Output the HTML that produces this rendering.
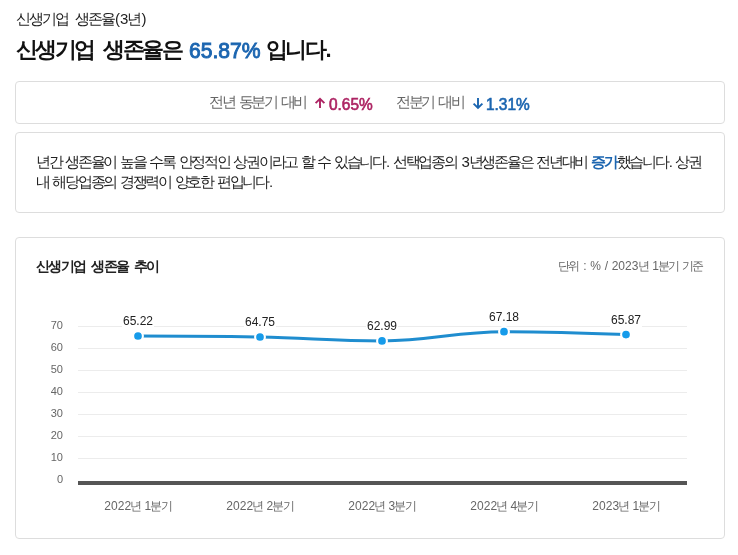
<!DOCTYPE html>
<html lang="ko">
<head>
<meta charset="utf-8">
<title>신생기업 생존율(3년)</title>
<style>
*{box-sizing:border-box;margin:0;padding:0}
html,body{width:738px;height:555px;background:#fff;overflow:hidden}
body{position:relative;font-family:"Liberation Sans",sans-serif;color:#222;font-size:14px}
i{display:inline-flex;justify-content:center;width:.85em;font-style:normal;white-space:nowrap}
.page{position:absolute;left:0;top:0;width:738px;height:555px;will-change:transform}
.abs{position:absolute;white-space:nowrap}
.box{position:absolute;left:15px;width:710px;border:1px solid #dddddd;border-radius:4px;background:#fff}
.sub{left:17px;top:9px;font-size:15px;line-height:20px;color:#222;word-spacing:2.6px}
.sub i{width:.87em}
.ttl{left:17px;top:35px;font-size:22px;line-height:30px;font-weight:bold;color:#111;word-spacing:3.5px}
.num{font-size:22px;font-weight:normal;-webkit-text-stroke:.95px #1b65b0;transform:scaleX(.96);transform-origin:0 50%;margin-top:1px}
.ttl i{width:.886em}
.blue{color:#1b65b0}
.pink{color:#ad2463}
.g{color:#666}
.cmp{top:92px;font-size:15px;line-height:20px;word-spacing:-.4px}
.cmp b{display:block;font-size:16.5px;font-weight:normal;-webkit-text-stroke:.65px;transform:scaleX(.935);transform-origin:0 50%;margin-top:2px}
.para{left:37px;font-size:15px;line-height:21px;color:#222;word-spacing:-.4px}
.ct{left:37px;top:256px;font-size:14px;line-height:20px;font-weight:bold;color:#222;word-spacing:2px}
.ct i{width:.88em}
.unit{right:34.5px;top:258px;font-size:12px;line-height:16px;color:#666;word-spacing:.4px}
.yl{position:absolute;left:39px;margin-top:-1px;width:24px;text-align:right;font-size:11px;line-height:12px;color:#666}
.xl{position:absolute;top:499px;width:100px;text-align:center;font-size:12px;line-height:14px;color:#666;white-space:nowrap}
.vl{position:absolute;width:32px;text-align:center;font-size:12px;line-height:14px;color:#222;background:#fff}
svg{position:absolute;left:0;top:0}

/* Fallback when no Hangul font is installed: the probe glyph collapses to the narrow
   "missing glyph" box, which makes the overlay below expand and shade each word so the
   text keeps roughly its real visual weight. With a real Hangul font the overlay is 0 wide. */
.probe{position:absolute;left:0;top:0;font-size:20px;line-height:20px;color:transparent;white-space:nowrap;pointer-events:none}
.probe::before{content:"\AC00"}
.probe::after{content:"";position:absolute;left:0;top:0;height:555px;width:calc((.8em - 100%)*9999);max-width:738px;background:linear-gradient(rgba(34,34,34,.12) 0 0) 17.8px 13.1px/50.7px 13.5px no-repeat,
linear-gradient(rgba(34,34,34,.19) 0 0) 76.5px 13.1px/37.6px 13.5px no-repeat,
linear-gradient(rgba(34,34,34,.14) 0 0) 128.7px 13.1px/11.5px 13.5px no-repeat,
linear-gradient(rgba(17,17,17,.30) 0 0) 18.1px 41.3px/75.7px 19.8px no-repeat,
linear-gradient(rgba(17,17,17,.37) 0 0) 105.5px 41.3px/75.7px 19.8px no-repeat,
linear-gradient(rgba(17,17,17,.27) 0 0) 268.1px 41.3px/56.3px 19.8px no-repeat,
linear-gradient(rgba(102,102,102,.15) 0 0) 211.2px 96.1px/24.0px 13.5px no-repeat,
linear-gradient(rgba(102,102,102,.14) 0 0) 240.4px 96.1px/36.8px 13.5px no-repeat,
linear-gradient(rgba(102,102,102,.15) 0 0) 282.2px 96.1px/24.0px 13.5px no-repeat,
linear-gradient(rgba(102,102,102,.13) 0 0) 397.8px 96.1px/36.8px 13.5px no-repeat,
linear-gradient(rgba(102,102,102,.15) 0 0) 439.6px 96.1px/24.0px 13.5px no-repeat,
linear-gradient(rgba(34,34,34,.13) 0 0) 37.8px 155.6px/24.0px 13.5px no-repeat,
linear-gradient(rgba(34,34,34,.17) 0 0) 66.9px 155.6px/49.5px 13.5px no-repeat,
linear-gradient(rgba(34,34,34,.19) 0 0) 121.5px 155.6px/24.0px 13.5px no-repeat,
linear-gradient(rgba(34,34,34,.13) 0 0) 150.6px 155.6px/24.0px 13.5px no-repeat,
linear-gradient(rgba(34,34,34,.14) 0 0) 179.7px 155.6px/49.5px 13.5px no-repeat,
linear-gradient(rgba(34,34,34,.12) 0 0) 234.3px 155.6px/62.2px 13.5px no-repeat,
linear-gradient(rgba(34,34,34,.26) 0 0) 301.7px 155.6px/11.2px 13.5px no-repeat,
linear-gradient(rgba(34,34,34,.05) 0 0) 318.0px 155.6px/11.2px 13.5px no-repeat,
linear-gradient(rgba(34,34,34,.11) 0 0) 334.4px 155.6px/49.5px 13.5px no-repeat,
linear-gradient(rgba(34,34,34,.16) 0 0) 393.0px 155.6px/62.2px 13.5px no-repeat,
linear-gradient(rgba(34,34,34,.18) 0 0) 468.3px 155.6px/62.2px 13.5px no-repeat,
linear-gradient(rgba(34,34,34,.14) 0 0) 535.7px 155.6px/49.5px 13.5px no-repeat,
linear-gradient(rgba(27,101,176,.28) 0 0) 590.3px 155.6px/24.0px 13.5px no-repeat,
linear-gradient(rgba(34,34,34,.16) 0 0) 615.8px 155.6px/49.5px 13.5px no-repeat,
linear-gradient(rgba(34,34,34,.13) 0 0) 674.4px 155.6px/24.0px 13.5px no-repeat,
linear-gradient(rgba(34,34,34,.15) 0 0) 37.8px 175.6px/11.2px 13.5px no-repeat,
linear-gradient(rgba(34,34,34,.17) 0 0) 54.1px 175.6px/62.2px 13.5px no-repeat,
linear-gradient(rgba(34,34,34,.16) 0 0) 121.5px 175.6px/49.5px 13.5px no-repeat,
linear-gradient(rgba(34,34,34,.16) 0 0) 176.1px 175.6px/36.8px 13.5px no-repeat,
linear-gradient(rgba(34,34,34,.13) 0 0) 217.9px 175.6px/49.5px 13.5px no-repeat,
linear-gradient(rgba(34,34,34,.27) 0 0) 37.7px 260.5px/47.9px 12.6px no-repeat,
linear-gradient(rgba(34,34,34,.34) 0 0) 93.0px 260.5px/35.5px 12.6px no-repeat,
linear-gradient(rgba(34,34,34,.25) 0 0) 135.9px 260.5px/23.2px 12.6px no-repeat,
linear-gradient(rgba(102,102,102,.12) 0 0) 560.4px 261.3px/19.2px 10.8px no-repeat,
linear-gradient(rgba(102,102,102,.14) 0 0) 639.4px 261.3px/9.0px 10.8px no-repeat,
linear-gradient(rgba(102,102,102,.11) 0 0) 659.9px 261.3px/19.2px 10.8px no-repeat,
linear-gradient(rgba(102,102,102,.13) 0 0) 683.7px 261.3px/19.2px 10.8px no-repeat,
linear-gradient(rgba(102,102,102,.14) 0 0) 132.3px 501.3px/9.0px 10.8px no-repeat,
linear-gradient(rgba(102,102,102,.10) 0 0) 152.5px 501.3px/19.2px 10.8px no-repeat,
linear-gradient(rgba(102,102,102,.14) 0 0) 254.3px 501.3px/9.0px 10.8px no-repeat,
linear-gradient(rgba(102,102,102,.10) 0 0) 274.5px 501.3px/19.2px 10.8px no-repeat,
linear-gradient(rgba(102,102,102,.14) 0 0) 376.3px 501.3px/9.0px 10.8px no-repeat,
linear-gradient(rgba(102,102,102,.10) 0 0) 396.5px 501.3px/19.2px 10.8px no-repeat,
linear-gradient(rgba(102,102,102,.14) 0 0) 498.3px 501.3px/9.0px 10.8px no-repeat,
linear-gradient(rgba(102,102,102,.10) 0 0) 518.5px 501.3px/19.2px 10.8px no-repeat,
linear-gradient(rgba(102,102,102,.14) 0 0) 620.3px 501.3px/9.0px 10.8px no-repeat,
linear-gradient(rgba(102,102,102,.10) 0 0) 640.5px 501.3px/19.2px 10.8px no-repeat}
</style>
</head>
<body>
<div class="page">
<div class="abs sub"><i>신</i><i>생</i><i>기</i><i>업</i> <i>생</i><i>존</i><i>율</i>(3<i>년</i>)</div>
<div class="abs ttl"><i>신</i><i>생</i><i>기</i><i>업</i> <i>생</i><i>존</i><i>율</i><i>은</i></div>
<div class="abs ttl blue num" style="left:189px">65.87%</div>
<div class="abs ttl" style="left:267px"><i>입</i><i>니</i><i>다</i>.</div>

<div class="box" style="top:81px;height:43px"></div>
<div class="abs cmp g" style="left:210.5px"><i>전</i><i>년</i> <i>동</i><i>분</i><i>기</i> <i>대</i><i>비</i></div>
<div class="abs cmp pink" style="left:328.5px"><b>0.65%</b></div>
<div class="abs cmp g" style="left:397px"><i>전</i><i>분</i><i>기</i> <i>대</i><i>비</i></div>
<div class="abs cmp blue" style="left:485.5px"><b>1.31%</b></div>

<div class="box" style="top:132px;height:81px"></div>
<div class="abs para" style="top:151px"><i>년</i><i>간</i> <i>생</i><i>존</i><i>율</i><i>이</i> <i>높</i><i>을</i> <i>수</i><i>록</i> <i>안</i><i>정</i><i>적</i><i>인</i> <i>상</i><i>권</i><i>이</i><i>라</i><i>고</i> <i>할</i> <i>수</i> <i>있</i><i>습</i><i>니</i><i>다</i>. <i>선</i><i>택</i><i>업</i><i>종</i><i>의</i> 3<i>년</i><i>생</i><i>존</i><i>율</i><i>은</i> <i>전</i><i>년</i><i>대</i><i>비</i> <b class="blue"><i>증</i><i>가</i></b><i>했</i><i>습</i><i>니</i><i>다</i>. <i>상</i><i>권</i></div>
<div class="abs para" style="top:171px"><i>내</i> <i>해</i><i>당</i><i>업</i><i>종</i><i>의</i> <i>경</i><i>쟁</i><i>력</i><i>이</i> <i>양</i><i>호</i><i>한</i> <i>편</i><i>입</i><i>니</i><i>다</i>.</div>

<div class="box" style="top:237px;height:302px"></div>
<div class="abs ct"><i>신</i><i>생</i><i>기</i><i>업</i> <i>생</i><i>존</i><i>율</i> <i>추</i><i>이</i></div>
<div class="abs unit"><i>단</i><i>위</i> : % / 2023<i>년</i> 1<i>분</i><i>기</i> <i>기</i><i>준</i></div>

<svg width="738" height="555" viewBox="0 0 738 555">
  <g stroke="#ececec" stroke-width="1" shape-rendering="crispEdges">
    <line x1="78" x2="687" y1="326.5" y2="326.5"/>
    <line x1="78" x2="687" y1="348.5" y2="348.5"/>
    <line x1="78" x2="687" y1="370.5" y2="370.5"/>
    <line x1="78" x2="687" y1="392.5" y2="392.5"/>
    <line x1="78" x2="687" y1="414.5" y2="414.5"/>
    <line x1="78" x2="687" y1="436.5" y2="436.5"/>
    <line x1="78" x2="687" y1="458.5" y2="458.5"/>
  </g>
  <rect x="78" y="481" width="609" height="4" fill="#555"/>
  <path d="M138.0,336.00 C138.00,336.00 211.20,336.02 260.0,337.00 C308.80,337.98 333.20,340.90 382.0,340.90 C430.80,340.90 455.20,331.70 504.0,331.70 C552.80,331.70 626.00,334.60 626.0,334.60" fill="none" stroke="#1f8dcf" stroke-width="3" stroke-linecap="round"/>
  <g fill="#169bea" stroke="#fff" stroke-width="2.1">
    <circle cx="138" cy="336" r="4.9"/>
    <circle cx="260" cy="337" r="4.9"/>
    <circle cx="382" cy="340.9" r="4.9"/>
    <circle cx="504" cy="331.7" r="4.9"/>
    <circle cx="626" cy="334.6" r="4.9"/>
  </g>
  <path d="M320,108 V99.5 M315.6,103.2 L320,98.8 L324.4,103.2" fill="none" stroke="#ad2463" stroke-width="1.9"/>
  <path d="M478,98 V107.2 M473.6,103.6 L478,108 L482.4,103.6" fill="none" stroke="#1b65b0" stroke-width="1.9"/>
</svg>

<div class="yl" style="top:320px">70</div>
<div class="yl" style="top:342px">60</div>
<div class="yl" style="top:364px">50</div>
<div class="yl" style="top:386px">40</div>
<div class="yl" style="top:408px">30</div>
<div class="yl" style="top:430px">20</div>
<div class="yl" style="top:452px">10</div>
<div class="yl" style="top:474px">0</div>

<div class="vl" style="left:122px;top:314.1px">65.22</div>
<div class="vl" style="left:244px;top:315.1px">64.75</div>
<div class="vl" style="left:366px;top:319px">62.99</div>
<div class="vl" style="left:488px;top:309.8px">67.18</div>
<div class="vl" style="left:610px;top:312.7px">65.87</div>

<div class="xl" style="left:88px">2022<i>년</i> 1<i>분</i><i>기</i></div>
<div class="xl" style="left:210px">2022<i>년</i> 2<i>분</i><i>기</i></div>
<div class="xl" style="left:332px">2022<i>년</i> 3<i>분</i><i>기</i></div>
<div class="xl" style="left:454px">2022<i>년</i> 4<i>분</i><i>기</i></div>
<div class="xl" style="left:576px">2023<i>년</i> 1<i>분</i><i>기</i></div>
<div class="probe"></div>
</div>
</body>
</html>
